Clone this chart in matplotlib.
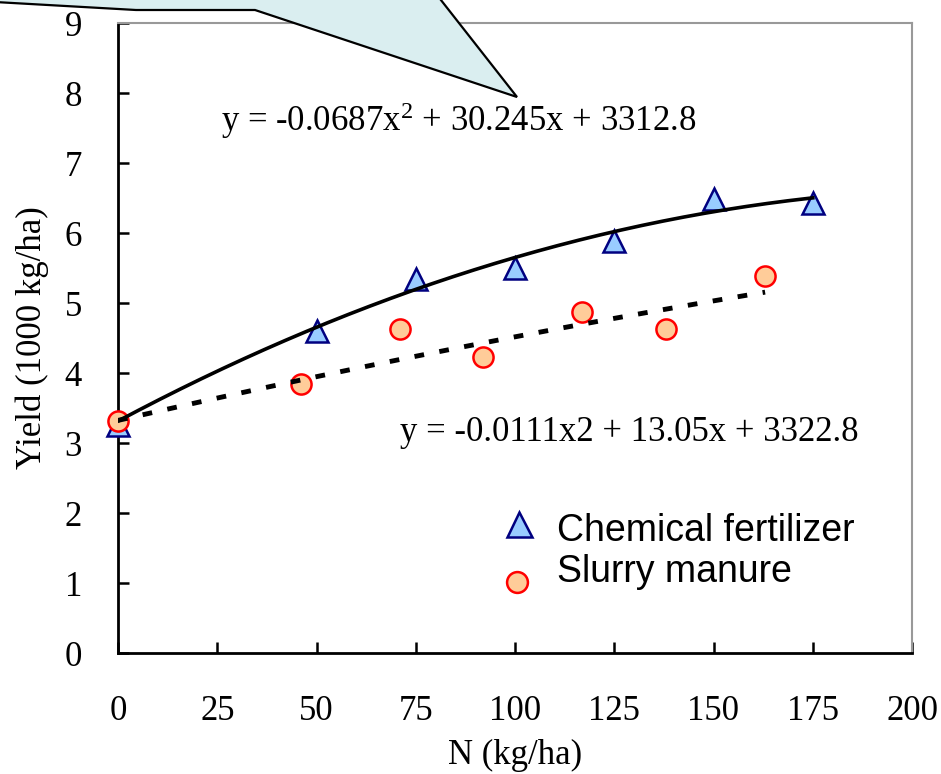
import numpy as np
import matplotlib.pyplot as plt
from matplotlib.patches import Polygon

plt.rcParams["mathtext.fontset"] = "custom"
plt.rcParams["mathtext.rm"] = "Liberation Serif"
plt.rcParams["mathtext.it"] = "Liberation Serif"

# N rate (kg/ha) and yield (1000 kg/ha)
chem_n = [0, 50, 75, 100, 125, 150, 175]
chem_yield = [3.26, 4.60, 5.34, 5.50, 5.88, 6.49, 6.43]

slurry_n = [0, 46, 71, 92, 117, 138, 163]
slurry_yield = [3.31, 3.84, 4.63, 4.23, 4.87, 4.63, 5.39]

# trendline coefficients as printed (kg/ha): a*x^2 + b*x + c
chem_coef = [-0.0687, 30.245, 3312.8]
slurry_coef = [-0.0111, 13.05, 3322.8]

chem_eq = r"y = -0.0687x$^{\mathrm{2}}$ + 30.245x + 3312.8"
slurry_eq = "y = -0.0111x2 + 13.05x + 3322.8"

W, H = 941, 774


def px(x, y):
    # pixel (top-left origin) -> figure fraction
    return (x / W, 1 - y / H)


def main():
    fig = plt.figure(figsize=(W / 100, H / 100), dpi=100)
    ax = fig.add_axes([118 / W, 1 - 653 / H, 794 / W, 630 / H])
    serif = "Liberation Serif"
    fs = 25

    ax.plot(chem_n, chem_yield, ls="none", marker="^", ms=16, mfc="#99ccff",
            mec="#000080", mew=1.8, clip_on=False, zorder=3)
    ax.plot(slurry_n, slurry_yield, ls="none", marker="o", ms=14.5, mfc="#ffcc99",
            mec="#ff0000", mew=1.8, clip_on=False, zorder=4)

    xc = np.linspace(0, max(chem_n), 200)
    ax.plot(xc, np.polyval(chem_coef, xc) / 1000, color="black", lw=2.6, zorder=5)
    xs = np.linspace(0, max(slurry_n), 200)
    ln, = ax.plot(xs, np.polyval(slurry_coef, xs) / 1000, color="black", lw=3.5, zorder=5)
    ln.set_dashes((2.0, 3.2))

    ax.set_xlim(0, 200)
    ax.set_ylim(0, 9)
    ax.set_xticks(range(0, 201, 25))
    ax.set_yticks(range(0, 10))
    ax.tick_params(direction="in", length=8, width=1.8, labelsize=fs)
    ax.tick_params(axis="y", pad=26)
    ax.tick_params(axis="x", pad=30)
    for lab in ax.get_xticklabels() + ax.get_yticklabels():
        lab.set_family(serif)

    for s in ["left", "bottom"]:
        ax.spines[s].set_linewidth(2)
        ax.spines[s].set_color("black")
    for s in ["top", "right"]:
        ax.spines[s].set_linewidth(1.5)
        ax.spines[s].set_color("#999999")

    ax.set_xlabel("N (kg/ha)", family=serif, fontsize=fs, labelpad=8)
    ax.set_ylabel("Yield (1000 kg/ha)", family=serif, fontsize=fs, labelpad=11)

    fig.text(221 / W, 1 - 131 / H, chem_eq, family=serif, fontsize=fs, va="baseline")
    fig.text(400 / W, 1 - 441 / H, slurry_eq, family=serif, fontsize=fs, va="baseline")

    # legend drawn by hand to match the original layout
    fig.lines.append(plt.Line2D([519 / W], [1 - 524 / H], transform=fig.transFigure,
                                marker="^", ms=18, mfc="#99ccff", mec="#000080", mew=1.8))
    fig.lines.append(plt.Line2D([517 / W], [1 - 582 / H], transform=fig.transFigure,
                                marker="o", ms=15, mfc="#ffcc99", mec="#ff0000", mew=1.8))
    fig.text(557 / W, 1 - 541 / H, "Chemical fertilizer", family="Liberation Sans",
             fontsize=27, va="baseline")
    fig.text(557 / W, 1 - 582 / H, "Slurry manure", family="Liberation Sans",
             fontsize=27, va="baseline")

    # callout bubble in the top left corner
    pts = [(-5, -5), (-5, 2), (136, 10), (255, 10), (517, 97), (437, -5)]
    bubble = Polygon([px(x, y) for x, y in pts], closed=True, transform=fig.transFigure,
                     facecolor="#daeef0", edgecolor="black", lw=1.6, zorder=10)
    fig.patches.append(bubble)

    fig.savefig("out.png", dpi=100)


if __name__ == "__main__":
    main()
